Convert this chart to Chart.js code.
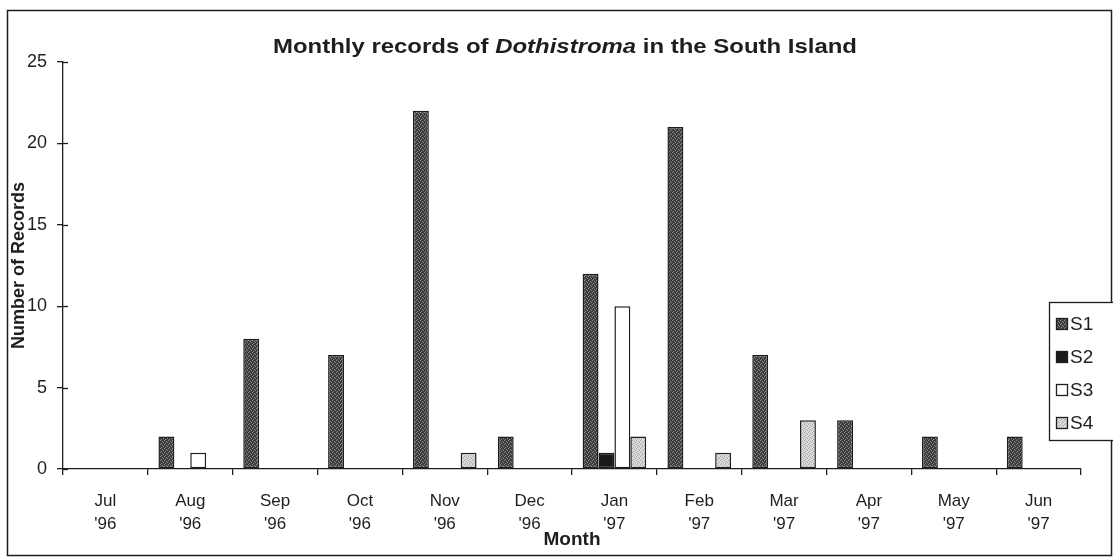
<!DOCTYPE html>
<html>
<head>
<meta charset="utf-8">
<script src="https://cdn.jsdelivr.net/npm/chart.js@4.4.1/dist/chart.umd.min.js"></script>
<style>
  html, body { margin: 0; padding: 0; background: #fff; }
  canvas { display: block; }
</style>
</head>
<body>
<canvas id="dothiChart" width="1113" height="558"></canvas>
<script>
  const months = [
    ["Jul", "'96"], ["Aug", "'96"], ["Sep", "'96"], ["Oct", "'96"],
    ["Nov", "'96"], ["Dec", "'96"], ["Jan", "'97"], ["Feb", "'97"],
    ["Mar", "'97"], ["Apr", "'97"], ["May", "'97"], ["Jun", "'97"],
  ];
  const seriesNames = ["S1", "S2", "S3", "S4"];
  const s1Records = [0, 2, 8, 7, 22, 2, 12, 21, 7, 3, 2, 2];
  const s2Records = [0, 0, 0, 0, 0, 0, 1, 0, 0, 0, 0, 0];
  const s3Records = [0, 1, 0, 0, 0, 0, 10, 0, 0, 0, 0, 0];
  const s4Records = [0, 0, 0, 0, 1, 0, 2, 1, 3, 0, 0, 0];
  const yTicks = [0, 5, 10, 15, 20, 25];

  const FONT = "'Liberation Sans', Arial, sans-serif";
  const INK = "#1e1e1e";

  const canvas = document.getElementById("dothiChart");
  const ctx = canvas.getContext("2d");

  // small speckled tiles to imitate the old printer fills
  function stipple(base, dots) {
    const tile = document.createElement("canvas");
    tile.width = 4;
    tile.height = 4;
    const g = tile.getContext("2d");
    g.fillStyle = base;
    g.fillRect(0, 0, 4, 4);
    if (dots) {
      g.fillStyle = dots;
      [[0, 0], [2, 1], [1, 3], [3, 2]].forEach(([x, y]) => g.fillRect(x, y, 1, 1));
    }
    return ctx.createPattern(tile, "repeat");
  }

  const fills = [
    stipple("#3c3c3c", "#8a8a8a"),
    stipple("#1a1a1a", null),
    "#ffffff",
    stipple("#dadada", "#a8a8a8"),
  ];
  const seriesData = [s1Records, s2Records, s3Records, s4Records];

  const titlePlugin = {
    id: "mixedTitle",
    afterDraw(chart) {
      const c = chart.ctx;
      const parts = [
        ["Monthly records of ", "bold"],
        ["Dothistroma", "italic bold"],
        [" in the South Island", "bold"],
      ];
      c.save();
      c.fillStyle = INK;
      c.textBaseline = "middle";
      let total = 0;
      parts.forEach((p) => {
        c.font = p[1] + " 21px " + FONT;
        total += c.measureText(p[0]).width;
      });
      // the title is set a little wide, like the rest of the lettering
      const stretch = 584 / total;
      c.translate(565 - 292, 47);
      c.scale(stretch, 1);
      let x = 0;
      parts.forEach((p) => {
        c.font = p[1] + " 21px " + FONT;
        c.fillText(p[0], x, 0);
        x += c.measureText(p[0]).width;
      });
      c.restore();
    },
  };

  const framePlugin = {
    id: "frameAndStubs",
    beforeDraw(chart) {
      const c = chart.ctx;
      c.save();
      c.fillStyle = "#fff";
      c.fillRect(0, 0, chart.width, chart.height);
      c.restore();
    },
    afterDraw(chart) {
      const c = chart.ctx;
      const area = chart.chartArea;
      const y = chart.scales.y;
      c.save();
      c.strokeStyle = INK;
      c.lineWidth = 1.3;
      // tick marks cross the value axis
      y.ticks.forEach((t, i) => {
        const py = Math.round(y.getPixelForTick(i)) + 0.5;
        c.beginPath();
        c.moveTo(area.left, py);
        c.lineTo(area.left + 5, py);
        c.stroke();
      });
      // outer border of the chart
      c.lineWidth = 1.5;
      c.strokeRect(7.5, 10.5, chart.width - 9, chart.height - 13);
      c.restore();
    },
  };

  const legendPlugin = {
    id: "boxLegend",
    afterDraw(chart) {
      const c = chart.ctx;
      const left = 1049, top = 302, bottom = 440;
      c.save();
      c.fillStyle = "#fff";
      c.fillRect(left, top, chart.width - left, bottom - top);
      c.strokeStyle = INK;
      c.lineWidth = 1.3;
      c.strokeRect(left + 0.5, top + 0.5, chart.width - left + 4, bottom - top);
      c.font = "19px " + FONT;
      c.textBaseline = "middle";
      chart.data.datasets.forEach((ds, i) => {
        const cy = 324 + i * 33;
        c.fillStyle = ds.backgroundColor;
        c.fillRect(1056, cy - 6, 11, 11);
        c.strokeRect(1056.5, cy - 5.5, 11, 11);
        c.fillStyle = INK;
        c.fillText(ds.label, 1070, cy + 1);
      });
      c.restore();
    },
  };

  new Chart(ctx, {
    type: "bar",
    data: {
      labels: months,
      datasets: seriesNames.map((name, i) => ({
        label: name,
        data: seriesData[i],
        backgroundColor: fills[i],
        borderColor: INK,
        borderWidth: 1.5,
        borderSkipped: false,
        categoryPercentage: 0.75,
        barPercentage: 1.0,
      })),
    },
    options: {
      responsive: false,
      animation: false,
      layout: {
        padding: { top: 62, left: 6, right: 32, bottom: 4 },
      },
      plugins: {
        legend: { display: false },
        title: { display: false },
        tooltip: { enabled: false },
      },
      scales: {
        x: {
          afterFit(scale) {
            scale.height = 85;
          },
          grid: {
            offset: true,
            drawOnChartArea: false,
            tickLength: 6,
            color: INK,
            lineWidth: 1.3,
          },
          border: { color: INK, width: 1.3 },
          ticks: {
            color: INK,
            padding: 15,
            maxRotation: 0,
            font: { family: FONT, size: 17, lineHeight: 1.35 },
          },
          title: {
            display: true,
            text: "Month",
            color: INK,
            font: { family: FONT, size: 19, weight: "bold" },
            padding: { top: 0, bottom: 3 },
          },
        },
        y: {
          min: yTicks[0],
          max: yTicks[yTicks.length - 1],
          afterFit(scale) {
            scale.width = 57;
          },
          afterBuildTicks(scale) {
            scale.ticks = yTicks.map((v) => ({ value: v }));
          },
          grid: {
            drawOnChartArea: false,
            tickLength: 6,
            color: INK,
            lineWidth: 1.3,
          },
          border: { color: INK, width: 1.3 },
          ticks: {
            color: INK,
            padding: 10,
            font: { family: FONT, size: 18 },
          },
          title: {
            display: true,
            text: "Number of Records",
            color: INK,
            font: { family: FONT, size: 18, weight: "bold" },
            padding: { top: 2 },
          },
        },
      },
    },
    plugins: [framePlugin, titlePlugin, legendPlugin],
  });
</script>
</body>
</html>
